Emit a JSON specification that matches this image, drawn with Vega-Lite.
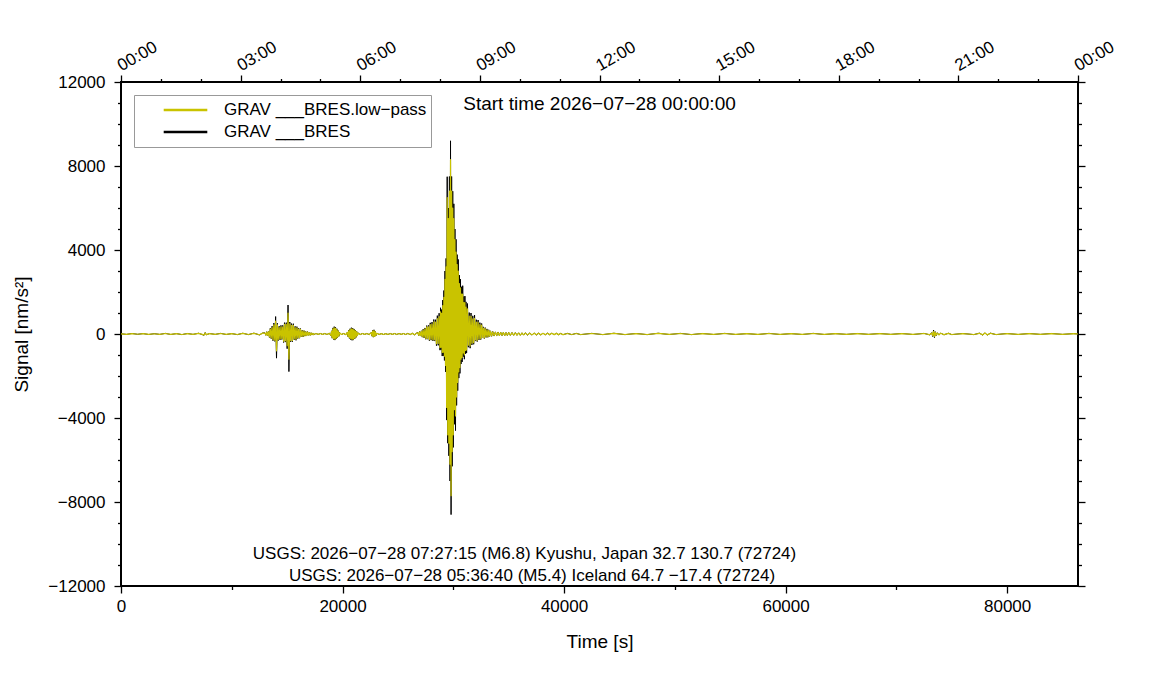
{
  "$schema": "https://vega.github.io/schema/vega-lite/v6.json",
  "width": 957,
  "height": 504,
  "autosize": {"type": "none"},
  "padding": {"left": 121, "top": 82, "right": 73, "bottom": 114},
  "background": "white",
  "datasets": {
    "signal": [
      {"t":0,"r":10,"l":8},{"t":500,"r":-20,"l":-15},{"t":1000,"r":25,"l":20},{"t":1500,"r":-15,"l":-12},
      {"t":2000,"r":20,"l":16},{"t":2500,"r":-25,"l":-20},{"t":3000,"r":15,"l":12},{"t":3500,"r":-20,"l":-16},
      {"t":4000,"r":30,"l":24},{"t":4500,"r":-25,"l":-20},{"t":5000,"r":20,"l":16},{"t":5500,"r":-30,"l":-24},
      {"t":6000,"r":25,"l":20},{"t":6500,"r":-20,"l":-16},{"t":7000,"r":35,"l":28},{"t":7500,"r":-60,"l":-45},
      {"t":7600,"r":70,"l":50},{"t":7700,"r":-40,"l":-30},{"t":8000,"r":25,"l":20},{"t":8500,"r":-20,"l":-16},
      {"t":9000,"r":30,"l":24},{"t":9500,"r":-25,"l":-20},{"t":10000,"r":20,"l":16},{"t":10500,"r":-30,"l":-24},
      {"t":11000,"r":35,"l":28},{"t":11500,"r":-30,"l":-24},{"t":12000,"r":40,"l":32},{"t":12500,"r":-45,"l":-36},
      {"t":12800,"r":50,"l":40},
      {"t":13000,"r":54,"l":45},{"t":13080,"r":-63,"l":-52},{"t":13160,"r":110,"l":90},{"t":13240,"r":-78,"l":-65},
      {"t":13320,"r":136,"l":115},{"t":13400,"r":-165,"l":-140},{"t":13480,"r":275,"l":230},{"t":13560,"r":-220,"l":-185},
      {"t":13640,"r":370,"l":310},{"t":13720,"r":-320,"l":-270},{"t":13800,"r":520,"l":440},{"t":13880,"r":-350,"l":-300},
      {"t":13960,"r":830,"l":620},{"t":14040,"r":-1150,"l":-800},{"t":14120,"r":510,"l":430},{"t":14200,"r":-310,"l":-260},
      {"t":14280,"r":370,"l":310},{"t":14360,"r":-280,"l":-235},{"t":14440,"r":410,"l":345},{"t":14520,"r":-260,"l":-220},
      {"t":14600,"r":410,"l":345},{"t":14680,"r":-405,"l":-340},{"t":14760,"r":540,"l":455},{"t":14840,"r":-385,"l":-325},
      {"t":14920,"r":540,"l":455},{"t":15000,"r":-700,"l":-560},{"t":15080,"r":1380,"l":1000},{"t":15160,"r":-1790,"l":-1200},
      {"t":15240,"r":570,"l":480},{"t":15320,"r":-380,"l":-320},{"t":15400,"r":495,"l":415},{"t":15480,"r":-365,"l":-305},
      {"t":15560,"r":490,"l":410},{"t":15640,"r":-275,"l":-230},{"t":15720,"r":365,"l":305},{"t":15800,"r":-300,"l":-250},
      {"t":15880,"r":350,"l":295},{"t":15960,"r":-220,"l":-185},{"t":16040,"r":280,"l":235},{"t":16120,"r":-200,"l":-170},
      {"t":16200,"r":260,"l":220},{"t":16280,"r":-140,"l":-120},{"t":16360,"r":180,"l":150},{"t":16440,"r":-140,"l":-120},
      {"t":16520,"r":160,"l":135},{"t":16600,"r":-100,"l":-85},{"t":16680,"r":120,"l":100},{"t":16760,"r":-88,"l":-74},
      {"t":16840,"r":115,"l":96},{"t":16920,"r":-60,"l":-50},{"t":17000,"r":76,"l":64},{"t":17080,"r":-64,"l":-54},
      {"t":17160,"r":60,"l":50},{"t":17240,"r":-46,"l":-38},{"t":17320,"r":40,"l":34},{"t":17400,"r":-32,"l":-27},
      {"t":17600,"r":25,"l":21},{"t":17800,"r":-20,"l":-17},{"t":18000,"r":25,"l":21},{"t":18200,"r":-20,"l":-17},
      {"t":18400,"r":25,"l":21},{"t":18600,"r":-25,"l":-21},{"t":18800,"r":35,"l":30},
      {"t":18950,"r":-80,"l":-65},{"t":19010,"r":150,"l":125},{"t":19070,"r":-200,"l":-170},{"t":19130,"r":290,"l":245},
      {"t":19190,"r":-260,"l":-220},{"t":19250,"r":350,"l":295},{"t":19310,"r":-290,"l":-245},{"t":19370,"r":320,"l":270},
      {"t":19430,"r":-230,"l":-195},{"t":19490,"r":250,"l":210},{"t":19550,"r":-170,"l":-145},{"t":19610,"r":160,"l":135},
      {"t":19670,"r":-110,"l":-92},{"t":19730,"r":70,"l":58},
      {"t":19900,"r":-25,"l":-21},{"t":20100,"r":25,"l":21},{"t":20300,"r":-35,"l":-30},
      {"t":20440,"r":90,"l":75},{"t":20500,"r":-130,"l":-110},{"t":20560,"r":180,"l":150},{"t":20620,"r":-210,"l":-175},
      {"t":20680,"r":250,"l":210},{"t":20740,"r":-270,"l":-225},{"t":20800,"r":300,"l":250},{"t":20860,"r":-300,"l":-250},
      {"t":20920,"r":280,"l":235},{"t":20980,"r":-290,"l":-245},{"t":21040,"r":240,"l":200},{"t":21100,"r":-230,"l":-195},
      {"t":21160,"r":180,"l":150},{"t":21220,"r":-160,"l":-135},{"t":21280,"r":120,"l":100},{"t":21340,"r":-90,"l":-75},
      {"t":21400,"r":50,"l":42},
      {"t":21600,"r":-25,"l":-21},{"t":21800,"r":25,"l":21},{"t":22000,"r":-20,"l":-17},{"t":22200,"r":25,"l":21},
      {"t":22400,"r":-30,"l":-25},
      {"t":22600,"r":80,"l":66},{"t":22660,"r":-100,"l":-85},{"t":22720,"r":170,"l":140},{"t":22780,"r":-150,"l":-125},
      {"t":22840,"r":200,"l":165},{"t":22900,"r":-130,"l":-110},{"t":22960,"r":120,"l":100},{"t":23020,"r":-80,"l":-66},
      {"t":23100,"r":40,"l":34},
      {"t":23300,"r":-25,"l":-21},{"t":23500,"r":20,"l":17},{"t":23700,"r":-25,"l":-21},{"t":23900,"r":20,"l":17},
      {"t":24100,"r":-25,"l":-21},{"t":24300,"r":25,"l":21},{"t":24500,"r":-20,"l":-17},{"t":24700,"r":25,"l":21},
      {"t":24900,"r":-25,"l":-21},{"t":25100,"r":25,"l":21},{"t":25300,"r":-20,"l":-17},{"t":25500,"r":25,"l":21},
      {"t":25700,"r":-25,"l":-21},{"t":25900,"r":30,"l":25},{"t":26100,"r":-30,"l":-25},{"t":26300,"r":35,"l":30},
      {"t":26500,"r":-40,"l":-34},{"t":26700,"r":50,"l":42},
      {"t":26800,"r":70,"l":58},{"t":26880,"r":-80,"l":-66},{"t":26960,"r":120,"l":100},{"t":27040,"r":-96,"l":-80},
      {"t":27120,"r":153,"l":128},{"t":27200,"r":-150,"l":-125},{"t":27280,"r":228,"l":190},{"t":27360,"r":-182,"l":-152},
      {"t":27440,"r":288,"l":240},{"t":27520,"r":-252,"l":-210},{"t":27600,"r":400,"l":335},{"t":27680,"r":-246,"l":-205},
      {"t":27760,"r":408,"l":340},{"t":27840,"r":-319,"l":-265},{"t":27920,"r":532,"l":445},{"t":28000,"r":-293,"l":-245},
      {"t":28080,"r":567,"l":475},{"t":28160,"r":-329,"l":-275},{"t":28240,"r":690,"l":575},{"t":28320,"r":-336,"l":-280},
      {"t":28400,"r":680,"l":570},{"t":28480,"r":-555,"l":-465},{"t":28560,"r":874,"l":730},{"t":28640,"r":-540,"l":-450},
      {"t":28720,"r":990,"l":830},
      {"t":28800,"r":-770,"l":-640},{"t":28850,"r":1250,"l":1050},{"t":28900,"r":-750,"l":-630},{"t":28950,"r":1165,"l":980},
      {"t":29000,"r":-1050,"l":-880},{"t":29050,"r":1615,"l":1350},{"t":29100,"r":-1040,"l":-870},{"t":29150,"r":2070,"l":1750},
      {"t":29200,"r":-1260,"l":-1060},{"t":29250,"r":3000,"l":2600},{"t":29300,"r":-1800,"l":-1500},{"t":29350,"r":3600,"l":3200},
      {"t":29400,"r":-4100,"l":-3500},{"t":29450,"r":7490,"l":6500},{"t":29500,"r":-5200,"l":-4800},{"t":29550,"r":6000,"l":5500},
      {"t":29600,"r":-5800,"l":-5200},{"t":29650,"r":7500,"l":6800},{"t":29700,"r":-7000,"l":-6200},{"t":29750,"r":9200,"l":8300},
      {"t":29800,"r":-8600,"l":-7700},{"t":29850,"r":7500,"l":6800},{"t":29900,"r":-6300,"l":-5600},{"t":29950,"r":6800,"l":6000},
      {"t":30000,"r":-5400,"l":-4800},{"t":30050,"r":6200,"l":5500},{"t":30100,"r":-4300,"l":-3600},{"t":30150,"r":5000,"l":4500},
      {"t":30200,"r":-4600,"l":-3900},{"t":30250,"r":4510,"l":3900},{"t":30300,"r":-3400,"l":-3000},{"t":30350,"r":3780,"l":3300},
      {"t":30400,"r":-2700,"l":-2300},{"t":30450,"r":3550,"l":3000},{"t":30500,"r":-2100,"l":-1800},{"t":30550,"r":2800,"l":2400},
      {"t":30600,"r":-1875,"l":-1600},{"t":30650,"r":2610,"l":2200},{"t":30700,"r":-1430,"l":-1200},{"t":30750,"r":2250,"l":1900},
      {"t":30800,"r":-1330,"l":-1120},{"t":30850,"r":2300,"l":1900},{"t":30900,"r":-1080,"l":-900},{"t":30950,"r":1785,"l":1500},
      {"t":31000,"r":-1200,"l":-1000},{"t":31050,"r":1805,"l":1500},{"t":31100,"r":-940,"l":-790},{"t":31150,"r":1530,"l":1280},
      {"t":31200,"r":-910,"l":-760},{"t":31280,"r":1450,"l":1200},{"t":31360,"r":-630,"l":-530},{"t":31440,"r":1020,"l":850},
      {"t":31520,"r":-675,"l":-565},{"t":31600,"r":1000,"l":840},{"t":31680,"r":-520,"l":-435},{"t":31760,"r":865,"l":720},
      {"t":31840,"r":-490,"l":-410},{"t":31920,"r":900,"l":750},{"t":32000,"r":-336,"l":-280},{"t":32080,"r":680,"l":570},
      {"t":32160,"r":-360,"l":-300},{"t":32240,"r":665,"l":555},{"t":32320,"r":-280,"l":-235},{"t":32400,"r":540,"l":450},
      {"t":32480,"r":-266,"l":-222},{"t":32560,"r":500,"l":420},{"t":32640,"r":-192,"l":-160},{"t":32720,"r":340,"l":285},
      {"t":32800,"r":-218,"l":-182},{"t":32880,"r":304,"l":254},{"t":32960,"r":-163,"l":-136},{"t":33040,"r":243,"l":203},
      {"t":33120,"r":-158,"l":-132},{"t":33200,"r":200,"l":170},{"t":33280,"r":-120,"l":-100},{"t":33360,"r":150,"l":125},
      {"t":33460,"r":-110,"l":-90},{"t":33560,"r":120,"l":100},{"t":33680,"r":-95,"l":-80},{"t":33800,"r":100,"l":84},
      {"t":33920,"r":-90,"l":-75},{"t":34040,"r":95,"l":80},{"t":34160,"r":-80,"l":-67},{"t":34280,"r":85,"l":71},
      {"t":34400,"r":-75,"l":-63},{"t":34520,"r":80,"l":67},{"t":34640,"r":-85,"l":-71},{"t":34760,"r":70,"l":58},
      {"t":34880,"r":-70,"l":-58},{"t":35000,"r":75,"l":63},{"t":35150,"r":-65,"l":-54},{"t":35300,"r":70,"l":58},
      {"t":35450,"r":-60,"l":-50},{"t":35600,"r":65,"l":54},{"t":35750,"r":-60,"l":-50},{"t":35900,"r":55,"l":46},
      {"t":36050,"r":-60,"l":-50},{"t":36200,"r":55,"l":46},{"t":36350,"r":-50,"l":-42},{"t":36500,"r":55,"l":46},
      {"t":36700,"r":-50,"l":-42},{"t":36900,"r":45,"l":38},{"t":37100,"r":-50,"l":-42},{"t":37300,"r":45,"l":38},
      {"t":37500,"r":-45,"l":-38},{"t":37700,"r":40,"l":34},{"t":37900,"r":-45,"l":-38},{"t":38100,"r":40,"l":34},
      {"t":38300,"r":-40,"l":-34},{"t":38500,"r":40,"l":34},{"t":38700,"r":-35,"l":-30},{"t":38900,"r":40,"l":34},
      {"t":39100,"r":-35,"l":-30},{"t":39300,"r":35,"l":30},{"t":39500,"r":-35,"l":-30},{"t":39700,"r":30,"l":25},
      {"t":39900,"r":-35,"l":-30},{"t":40300,"r":30,"l":25},{"t":40700,"r":-30,"l":-25},{"t":41100,"r":30,"l":25},
      {"t":41500,"r":-30,"l":-25},{"t":42500,"r":30,"l":25},{"t":43500,"r":-30,"l":-25},{"t":44500,"r":35,"l":29},
      {"t":45500,"r":-30,"l":-25},{"t":46500,"r":25,"l":21},{"t":47500,"r":-30,"l":-25},{"t":48500,"r":35,"l":29},
      {"t":49500,"r":-25,"l":-21},{"t":50500,"r":30,"l":25},{"t":51500,"r":-30,"l":-25},{"t":52500,"r":25,"l":21},
      {"t":53500,"r":-25,"l":-21},{"t":54500,"r":30,"l":25},{"t":55500,"r":-25,"l":-21},{"t":56500,"r":20,"l":17},
      {"t":57500,"r":-25,"l":-21},{"t":58500,"r":30,"l":25},{"t":59500,"r":-25,"l":-21},{"t":60500,"r":20,"l":17},
      {"t":61500,"r":-25,"l":-21},{"t":62500,"r":30,"l":25},{"t":63500,"r":-25,"l":-21},{"t":64500,"r":20,"l":17},
      {"t":65500,"r":-20,"l":-17},{"t":66500,"r":25,"l":21},{"t":67500,"r":-20,"l":-17},{"t":68500,"r":25,"l":21},
      {"t":69500,"r":-20,"l":-17},{"t":70500,"r":25,"l":21},{"t":71500,"r":-25,"l":-21},{"t":72500,"r":30,"l":25},
      {"t":73000,"r":-40,"l":-33},{"t":73200,"r":60,"l":45},{"t":73280,"r":-120,"l":-80},{"t":73360,"r":190,"l":120},
      {"t":73440,"r":-170,"l":-110},{"t":73520,"r":110,"l":80},{"t":73600,"r":-80,"l":-60},{"t":73700,"r":60,"l":45},
      {"t":73850,"r":-50,"l":-40},{"t":74000,"r":45,"l":35},{"t":74300,"r":-40,"l":-32},{"t":74700,"r":35,"l":28},
      {"t":75000,"r":-30,"l":-25},{"t":76000,"r":25,"l":21},{"t":77000,"r":-30,"l":-25},{"t":77500,"r":40,"l":32},
      {"t":77800,"r":-50,"l":-40},{"t":78000,"r":55,"l":44},{"t":78200,"r":-50,"l":-40},{"t":78500,"r":40,"l":32},
      {"t":79000,"r":-30,"l":-25},{"t":80000,"r":25,"l":21},{"t":81000,"r":-25,"l":-21},{"t":82000,"r":25,"l":21},
      {"t":83000,"r":-20,"l":-17},{"t":84000,"r":25,"l":21},{"t":85000,"r":-20,"l":-17},{"t":86000,"r":20,"l":17},
      {"t":86400,"r":0,"l":0}
    ],
    "start": [
      {"tx": 43200, "ty": 10950, "txt": "Start time 2026−07−28 00:00:00"}
    ],
    "usgs": [
      {"tx": 36430, "ty": -10476, "txt": "USGS: 2026−07−28 07:27:15 (M6.8) Kyushu, Japan 32.7 130.7 (72724)"},
      {"tx": 37110, "ty": -11524, "txt": "USGS: 2026−07−28 05:36:40 (M5.4) Iceland 64.7 −17.4 (72724)"}
    ]
  },
  "layer": [
    {
      "data": {"name": "signal"},
      "mark": {"type": "line", "strokeWidth": 1, "strokeJoin": "round"},
      "encoding": {
        "x": {
          "field": "t", "type": "quantitative",
          "scale": {"domain": [0, 86400], "nice": false, "zero": false},
          "axis": {
            "orient": "bottom", "values": [0, 20000, 40000, 60000, 80000], "format": "d",
            "tickSize": 7, "labelPadding": 5, "title": "Time [s]", "titleFontSize": 19, "titlePadding": 18
          }
        },
        "y": {
          "field": "r", "type": "quantitative",
          "scale": {"domain": [-12000, 12000], "nice": false, "zero": false},
          "axis": {
            "orient": "left", "values": [-12000, -8000, -4000, 0, 4000, 8000, 12000], "format": "d",
            "tickSize": 7, "labelPadding": 9, "title": "Signal [nm/s²]", "titleFontSize": 19, "titlePadding": 16
          }
        },
        "color": {
          "datum": "GRAV ___BRES", "type": "nominal",
          "scale": {"domain": ["GRAV ___BRES.low−pass", "GRAV ___BRES"], "range": ["#c9c300", "#000000"]},
          "legend": {
            "orient": "top-left", "offset": 13, "title": null,
            "symbolType": "stroke", "symbolStrokeWidth": 2.5, "symbolSize": 1900,
            "symbolOffset": 24, "labelOffset": 15, "labelFontSize": 17, "labelLimit": 500,
            "clipHeight": 22, "rowPadding": 0,
            "strokeColor": "#999999", "fillColor": "white", "padding": 4
          }
        }
      }
    },
    {
      "data": {"name": "signal"},
      "mark": {"type": "line", "strokeWidth": 1.2, "strokeJoin": "round"},
      "encoding": {
        "x": {
          "field": "t", "type": "quantitative",
          "axis": {"orient": "bottom", "values": [10000, 30000, 50000, 70000], "labels": false, "tickSize": 3.5, "title": null}
        },
        "y": {
          "field": "l", "type": "quantitative",
          "axis": {
            "orient": "left",
            "values": [-11000, -10000, -9000, -7000, -6000, -5000, -3000, -2000, -1000, 1000, 2000, 3000, 5000, 6000, 7000, 9000, 10000, 11000],
            "labels": false, "tickSize": 3.5, "title": null
          }
        },
        "color": {"datum": "GRAV ___BRES.low−pass", "type": "nominal"}
      }
    },
    {
      "data": {"name": "start"},
      "mark": {"type": "text", "fontSize": 19, "align": "center", "baseline": "middle"},
      "encoding": {
        "x": {
          "field": "tx", "type": "quantitative",
          "axis": {
            "orient": "top", "values": [0, 10800, 21600, 32400, 43200, 54000, 64800, 75600, 86400],
            "labelExpr": "utcFormat(datum.value * 1000, '%H:%M')",
            "labelAngle": -30, "labelAlign": "left", "labelBaseline": "alphabetic", "labelPadding": 4,
            "tickSize": 7, "title": null
          }
        },
        "y": {
          "field": "ty", "type": "quantitative",
          "axis": {"orient": "right", "values": [-12000, -8000, -4000, 0, 4000, 8000, 12000], "labels": false, "tickSize": 7, "title": null}
        },
        "text": {"field": "txt"}
      }
    },
    {
      "data": {"name": "usgs"},
      "mark": {"type": "text", "fontSize": 17, "align": "center", "baseline": "middle"},
      "encoding": {
        "x": {
          "field": "tx", "type": "quantitative",
          "axis": {
            "orient": "top",
            "values": [3600, 7200, 14400, 18000, 25200, 28800, 36000, 39600, 46800, 50400, 57600, 61200, 68400, 72000, 79200, 82800],
            "labels": false, "tickSize": 3.5, "title": null
          }
        },
        "y": {
          "field": "ty", "type": "quantitative",
          "axis": {
            "orient": "right",
            "values": [-11000, -10000, -9000, -7000, -6000, -5000, -3000, -2000, -1000, 1000, 2000, 3000, 5000, 6000, 7000, 9000, 10000, 11000],
            "labels": false, "tickSize": 3.5, "title": null
          }
        },
        "text": {"field": "txt"}
      }
    }
  ],
  "resolve": {"axis": {"x": "independent", "y": "independent"}},
  "config": {
    "font": "Liberation Sans",
    "view": {"stroke": "black", "strokeWidth": 2},
    "axis": {
      "grid": false, "domain": false, "tickColor": "black", "tickWidth": 1.3,
      "labelFontSize": 17, "labelColor": "black", "titleColor": "black", "titleFontWeight": "normal",
      "labelFont": "Liberation Sans", "titleFont": "Liberation Sans"
    },
    "axisX": {"labelFlush": false},
    "legend": {"labelFont": "Liberation Sans", "labelColor": "black"},
    "text": {"font": "Liberation Sans", "color": "black"}
  }
}
